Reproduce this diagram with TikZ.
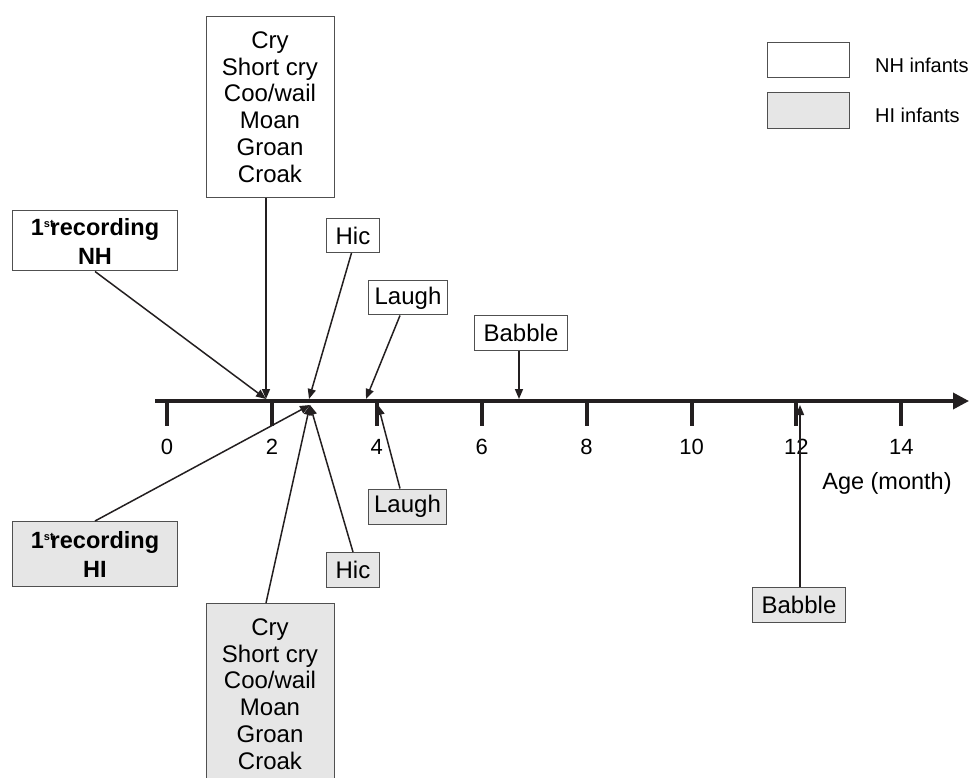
\documentclass[tikz,border=0pt]{standalone}
\usepackage{fontspec}
\setmainfont{Liberation Sans}
\usetikzlibrary{arrows.meta}
\definecolor{hifill}{RGB}{230,230,230}
\definecolor{ink}{RGB}{35,31,32}
\definecolor{edge}{RGB}{80,80,80}
\newcommand{\recst}{1\raisebox{8pt}{\fontsize{11}{11}\selectfont st}\kern-3pt recording}

\begin{document}
\begin{tikzpicture}[x=1pt,y=-1pt,
  nhbox/.style={draw=edge,line width=1pt,fill=white,align=center,inner sep=0pt,
    font=\fontsize{24}{26.7}\selectfont},
  hibox/.style={nhbox,fill=hifill},
  recbox/.style={font=\bfseries\fontsize{23.5}{29}\selectfont,minimum width=165pt},
  conn/.style={ink,line width=1.5pt,-{Triangle[length=10pt,width=8pt]}},
  tick/.style={ink,line width=4pt}]
  \useasboundingbox (0,0) rectangle (970,778);
  \clip (0,0) rectangle (970,778);

  \draw[ink,line width=3.5pt,-{Triangle[length=16pt,width=16pt]}] (155,401) -- (969,401);
  \foreach \m in {0,2,...,14} {
    \draw[tick] ({167+52.45*\m},401) -- ++(0,25);
    \node[font=\fontsize{22}{22}\selectfont] (lab\m) at ({167+52.45*\m},447) {\m};
  }
  \node[font=\fontsize{23.5}{23.5}\selectfont] (agelab) at (887,483) {Age (month)};

  \node[nhbox,minimum width=82pt,minimum height=35pt] (nhkey) at (808,60) {};
  \node[hibox,minimum width=82pt,minimum height=36pt] (hikey) at (808,111) {};
  \node[anchor=base west,inner sep=0pt,font=\fontsize{20}{20}\selectfont] (nhkeylab) at (875,73) {NH infants};
  \node[anchor=base west,inner sep=0pt,font=\fontsize{20}{20}\selectfont] (hikeylab) at (875,123) {HI infants};

  \node[nhbox,anchor=north,minimum width=128pt,minimum height=181pt] (nhcry) at (270,16)
    {Cry\\Short cry\\Coo/wail\\Moan\\Groan\\Croak};
  \node[nhbox,recbox,minimum height=60pt] (nhrec) at (95,241) {\recst\\NH};
  \node[nhbox,minimum width=53pt,minimum height=34pt] (nhhic) at (353,235.5) {Hic};
  \node[nhbox,minimum width=79pt,minimum height=34pt] (nhlaugh) at (408,298) {Laugh};
  \node[nhbox,minimum width=93pt,minimum height=35pt] (nhbabble) at (521,333) {Babble};

  \node[hibox,anchor=north,minimum width=128pt,minimum height=181pt] (hicry) at (270,603)
    {Cry\\Short cry\\Coo/wail\\Moan\\Groan\\Croak};
  \node[hibox,recbox,minimum height=65pt] (hirec) at (95,554) {\recst\\HI};
  \node[hibox,minimum width=53pt,minimum height=35pt] (hihic) at (353,570) {Hic};
  \node[hibox,minimum width=78pt,minimum height=35pt] (hilaugh) at (407.5,506.5) {Laugh};
  \node[hibox,minimum width=93pt,minimum height=35pt] (hibabble) at (799,605) {Babble};

  \coordinate (nhtwo) at (266,399);
  \coordinate (nhhictip) at (309,399);
  \coordinate (nhlaughtip) at (366,399);
  \coordinate (nhbabtip) at (519,399);
  \coordinate (hitip) at (310,405);
  \coordinate (hilaughtip) at (378,405);
  \coordinate (hibabtip) at (800,405);

  \draw[conn] (nhcry.south -| nhtwo) -- (nhtwo);
  \draw[conn] (nhrec.south) -- (nhtwo);
  \draw[conn] ([xshift=-1.5pt]nhhic.south) -- (nhhictip);
  \draw[conn] ([xshift=-8pt]nhlaugh.south) -- (nhlaughtip);
  \draw[conn] (nhbabble.south -| nhbabtip) -- (nhbabtip);

  \draw[conn] (hirec.north) -- (hitip);
  \draw[conn] ([xshift=-4pt]hicry.north) -- (hitip);
  \draw[conn] (hihic.north) -- (hitip);
  \draw[conn] ([xshift=-7.5pt]hilaugh.north) -- (hilaughtip);
  \draw[conn] (hibabble.north -| hibabtip) -- (hibabtip);
\end{tikzpicture}
\end{document}
